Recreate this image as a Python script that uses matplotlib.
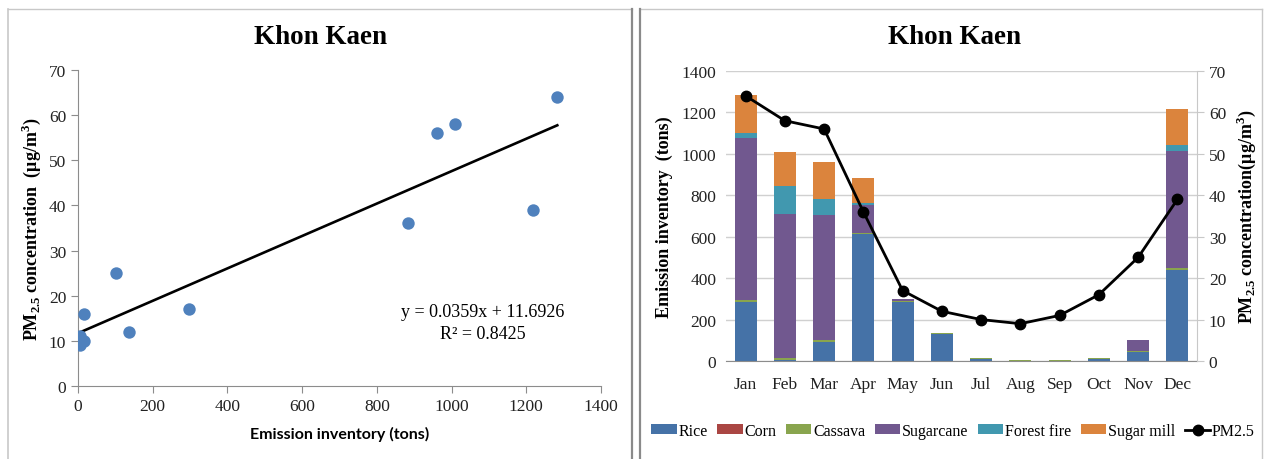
import matplotlib
matplotlib.use('Agg')
import matplotlib.pyplot as plt
from matplotlib.lines import Line2D
import numpy as np

plt.rcParams['font.family'] = ['Liberation Serif', 'DejaVu Serif']
plt.rcParams['mathtext.fontset'] = 'custom'
plt.rcParams['mathtext.rm'] = 'Liberation Serif'
plt.rcParams['mathtext.bf'] = 'Liberation Serif:bold'

# monthly emission inventory by source (tons) and PM2.5 (ug/m3)
months = ['Jan', 'Feb', 'Mar', 'Apr', 'May', 'Jun', 'Jul', 'Aug', 'Sep', 'Oct', 'Nov', 'Dec']
rice = [285, 5, 90, 615, 287, 132, 12, 1, 1, 12, 45, 440]
corn = [0, 0, 0, 0, 0, 0, 0, 0, 0, 0, 0, 0]
cassava = [10, 10, 10, 5, 2, 5, 3, 4, 4, 3, 5, 8]
sugarcane = [780, 695, 605, 135, 9, 0, 0, 0, 0, 0, 53, 567]
forest_fire = [25, 135, 75, 8, 0, 0, 0, 0, 0, 0, 0, 30]
sugar_mill = [183, 163, 182, 120, 0, 0, 0, 0, 0, 0, 0, 172]
pm25 = [64, 58, 56, 36, 17, 12, 10, 9, 11, 16, 25, 39]

sources = ['Rice', 'Corn', 'Cassava', 'Sugarcane', 'Forest fire', 'Sugar mill']
source_data = [rice, corn, cassava, sugarcane, forest_fire, sugar_mill]
source_colors = ['#4572A7', '#AA4643', '#89A54E', '#71588F', '#4198AF', '#DB843D']

# trendline from the reference
slope, intercept = 0.0359, 11.6926

W, H = 1266, 460
fig = plt.figure(figsize=(W / 100, H / 100), dpi=100)


def fx(px):
    return px / W


def fy(py):
    return 1 - py / H


# panel frames
light, dark = '#C8C8C8', '#8A8A8A'
for (x0, y0, x1, y1, c, lw) in [
        (8, 10, 632, 10, light, 1.0), (8, 10, 8, 460, light, 1.2),
        (632, 10, 632, 460, dark, 1.6),
        (640, 10, 1262, 10, light, 1.0), (640, 10, 640, 460, dark, 1.6),
        (1262, 10, 1262, 460, light, 1.0)]:
    fig.add_artist(Line2D([fx(x0), fx(x1)], [fy(y0), fy(y1)], color=c, lw=lw,
                          transform=fig.transFigure))

axis_gray = '#8C8C8C'
tick_color = '#222222'

# ---- left: scatter ----
ax1 = fig.add_axes([fx(78), fy(387), fx(601) - fx(78), fy(71) - fy(387)])
emission_total = np.sum(source_data, axis=0)
ax1.scatter(emission_total, pm25, s=80, color='#4F81BD', zorder=3, linewidths=0)
xfit = np.array([0, max(emission_total)])
ax1.plot(xfit, slope * xfit + intercept, color='black', lw=1.9, zorder=2)
ax1.set_xlim(0, 1400)
ax1.set_ylim(0, 70)
ax1.set_xticks(np.arange(0, 1401, 200))
ax1.set_yticks(np.arange(0, 71, 10))
for s in ['top', 'right']:
    ax1.spines[s].set_visible(False)
for s in ['left', 'bottom']:
    ax1.spines[s].set_color(axis_gray)
ax1.tick_params(colors=axis_gray, labelcolor=tick_color, labelsize=12.5, length=5, width=0.8)
ax1.set_xlabel('Emission inventory (tons)', family='Lato', fontweight='bold', fontsize=11.5,
               labelpad=9)
ax1.set_ylabel(r'PM$_{\mathbf{2.5}}$ concentration  (μg/m$^{\mathbf{3}}$)', fontweight='bold',
               fontsize=13, labelpad=4)
ax1.text(1084, 14.0, 'y = 0.0359x + 11.6926\nR² = 0.8425', ha='center', va='center',
         multialignment='center', fontsize=13, linespacing=1.4)
fig.text(fx(320), fy(38), 'Khon Kaen', ha='center', va='center', fontsize=19.5, fontweight='bold')

# ---- right: stacked bars + PM2.5 line ----
ax2 = fig.add_axes([fx(726), fy(362), fx(1197) - fx(726), fy(72) - fy(362)])
x = np.arange(len(months))
bottom = np.zeros(len(months))
handles = []
for name, vals, col in zip(sources, source_data, source_colors):
    b = ax2.bar(x, vals, 0.56, bottom=bottom, color=col, label=name, zorder=2)
    bottom += np.array(vals)
    handles.append(b)
ax2.set_xlim(-0.5, 11.5)
ax2.set_ylim(0, 1400)
ax2.set_yticks(np.arange(0, 1401, 200))
ax2.set_xticks(x)
ax2.set_xticklabels(months)
ax2.grid(axis='y', color='#D0D0D0', lw=1.0, zorder=0)
ax2.set_axisbelow(True)
for s in ['top', 'left', 'right']:
    ax2.spines[s].set_visible(False)
ax2.spines['bottom'].set_color(axis_gray)
ax2.tick_params(axis='y', length=0, labelsize=12.5, labelcolor=tick_color, pad=7)
ax2.tick_params(axis='x', length=0, labelsize=12.5, labelcolor=tick_color, pad=11)
ax2.set_ylabel('Emission inventory  (tons)', fontweight='bold', fontsize=13, labelpad=6)

ax3 = ax2.twinx()
line, = ax3.plot(x, pm25, color='black', lw=2, marker='o', markersize=7.5, label='PM2.5',
                 zorder=4)
ax3.set_ylim(0, 70)
ax3.set_yticks(np.arange(0, 71, 10))
for s in ['top', 'left', 'bottom']:
    ax3.spines[s].set_visible(False)
ax3.spines['right'].set_color('#C8C8C8')
ax3.tick_params(axis='y', colors='#C8C8C8', labelcolor=tick_color, labelsize=12.5, length=5,
                width=0.8)
ax3.set_ylabel(r'PM$_{\mathbf{2.5}}$ concentration(μg/m$^{\mathbf{3}}$)', fontweight='bold',
               fontsize=13, labelpad=6)
fig.text(fx(954), fy(38), 'Khon Kaen', ha='center', va='center', fontsize=19.5, fontweight='bold')

fig.legend(handles + [line], sources + ['PM2.5'], loc='center', bbox_to_anchor=(fx(953), fy(432)),
           ncol=7, frameon=False, fontsize=11.5, handlelength=1.6, handleheight=0.6,
           handletextpad=0.1, columnspacing=0.6, borderpad=0.2)

fig.savefig('out.png', dpi=100)
